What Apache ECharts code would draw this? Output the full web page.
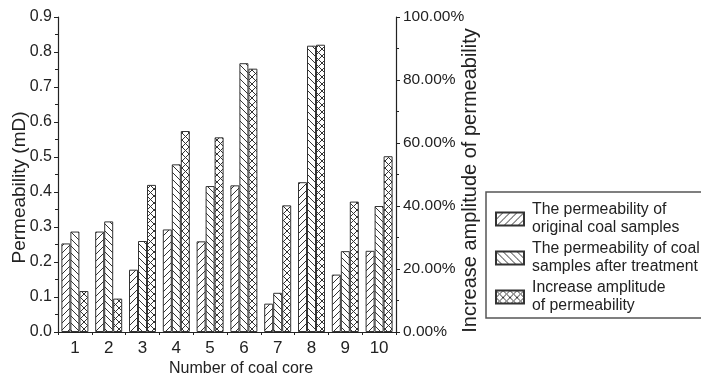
<!DOCTYPE html>
<html>
<head>
<meta charset="utf-8">
<script src="https://cdn.jsdelivr.net/npm/echarts@6/dist/echarts.min.js"></script>
<style>
html,body{margin:0;padding:0;background:#fff;}
#chart{width:701px;height:378px;}
</style>
</head>
<body>
<div id="chart"></div>
<script>
const categories = ['1', '2', '3', '4', '5', '6', '7', '8', '9', '10'];
const originalPerm = [0.253, 0.287, 0.178, 0.293, 0.259, 0.419, 0.081, 0.428, 0.164, 0.232];
const treatedPerm = [0.287, 0.316, 0.260, 0.479, 0.417, 0.768, 0.112, 0.818, 0.231, 0.360];
const increasePct = [13.0, 10.6, 46.7, 63.8, 61.8, 83.6, 40.2, 91.2, 41.4, 55.8];
const leftTicks = [0, 0.9, 0.1];
const rightTicks = [0, 100, 20];
const seriesNames = ['The permeability of\noriginal coal samples', 'The permeability of coal\nsamples after treatment', 'Increase amplitude\nof permeability'];

function makePattern(kind) {
  const s = 7;
  const c = document.createElement('canvas');
  c.width = s; c.height = s;
  const g = c.getContext('2d');
  g.fillStyle = '#fff';
  g.fillRect(0, 0, s, s);
  g.strokeStyle = '#333';
  g.lineWidth = 1;
  g.beginPath();
  if (kind === 'fwd' || kind === 'cross') {
    g.moveTo(-1, s + 1); g.lineTo(s + 1, -1);
    g.moveTo(-1, 1); g.lineTo(1, -1);
    g.moveTo(s - 1, s + 1); g.lineTo(s + 1, s - 1);
  }
  if (kind === 'back' || kind === 'cross') {
    g.moveTo(-1, -1); g.lineTo(s + 1, s + 1);
    g.moveTo(s - 1, -1); g.lineTo(s + 1, 1);
    g.moveTo(-1, s - 1); g.lineTo(1, s + 1);
  }
  g.stroke();
  return { image: c, repeat: 'repeat' };
}

const font = 'Liberation Sans, Arial, sans-serif';
const axisColor = '#222';
const chart = echarts.init(document.getElementById('chart'), null, { renderer: 'canvas' });

const barCommon = {
  type: 'bar',
  barWidth: 9,
  barGap: '0%',
  barCategoryGap: '20%'
};

chart.setOption({
  animation: false,
  backgroundColor: '#fff',
  textStyle: { fontFamily: font },
  grid: { left: 58, right: 305, top: 17, bottom: 46, containLabel: false, outerBoundsMode: 'none' },
  legend: {
    orient: 'vertical',
    left: 486,
    top: 192,
    icon: 'rect',
    itemWidth: 28,
    itemHeight: 13,
    itemGap: 3,
    borderColor: '#555',
    borderWidth: 1.5,
    padding: [9, 6, 3, 9],
    textStyle: { fontSize: 15.8, lineHeight: 18, color: '#222', fontFamily: font, padding: [0, 0, 0, 3] },
    data: seriesNames
  },
  xAxis: [{
    type: 'category',
    data: categories,
    name: 'Number of coal core',
    nameLocation: 'middle',
    nameGap: 29,
    nameMoveOverlap: false,
    nameTextStyle: { fontSize: 16, color: '#222', fontFamily: font, padding: [0, 0, 0, 28] },
    axisLine: { lineStyle: { color: axisColor, width: 1.2 } },
    axisTick: { alignWithLabel: true, length: 5, lineStyle: { color: axisColor } },
    axisLabel: { fontSize: 17, color: '#222', margin: 8 },
    splitLine: { show: false }
  }, {
    type: 'category',
    data: categories,
    position: 'bottom',
    axisLine: { show: false },
    axisTick: { show: true, length: 3, lineStyle: { color: axisColor } },
    axisLabel: { show: false },
    splitLine: { show: false }
  }],
  yAxis: [{
    type: 'value',
    min: leftTicks[0], max: leftTicks[1], interval: leftTicks[2],
    name: 'Permeability (mD)',
    nameLocation: 'middle',
    nameGap: 29,
    nameMoveOverlap: false,
    nameTextStyle: { fontSize: 19, color: '#222', fontFamily: font, padding: [0, 26, 0, 0] },
    axisLine: { show: true, lineStyle: { color: axisColor, width: 1.2 } },
    axisTick: { show: true, length: 4, lineStyle: { color: axisColor } },
    minorTick: { show: true, splitNumber: 2, length: 3, lineStyle: { color: axisColor } },
    axisLabel: { fontSize: 16, color: '#222', margin: 6, formatter: v => v.toFixed(1) },
    splitLine: { show: false }
  }, {
    type: 'value',
    position: 'right',
    min: rightTicks[0], max: rightTicks[1], interval: rightTicks[2],
    name: 'Increase amplitude of permeability',
    nameLocation: 'middle',
    nameGap: 64,
    nameRotate: 90,
    nameMoveOverlap: false,
    nameTextStyle: { fontSize: 20, color: '#222', fontFamily: font, padding: [0, 12, 0, 0] },
    axisLine: { show: true, lineStyle: { color: axisColor, width: 1.2 } },
    axisTick: { show: true, length: 4, lineStyle: { color: axisColor } },
    minorTick: { show: true, splitNumber: 2, length: 3, lineStyle: { color: axisColor } },
    axisLabel: { fontSize: 15.5, color: '#222', margin: 7, formatter: v => v.toFixed(2) + '%' },
    splitLine: { show: false }
  }],
  series: [
    Object.assign({}, barCommon, {
      name: seriesNames[0], yAxisIndex: 0, data: originalPerm,
      itemStyle: { color: makePattern('fwd'), borderColor: '#333', borderWidth: 1 }
    }),
    Object.assign({}, barCommon, {
      name: seriesNames[1], yAxisIndex: 0, data: treatedPerm,
      itemStyle: { color: makePattern('back'), borderColor: '#333', borderWidth: 1 }
    }),
    Object.assign({}, barCommon, {
      name: seriesNames[2], yAxisIndex: 1, data: increasePct,
      itemStyle: { color: makePattern('cross'), borderColor: '#333', borderWidth: 1 }
    })
  ]
});
</script>
</body>
</html>
